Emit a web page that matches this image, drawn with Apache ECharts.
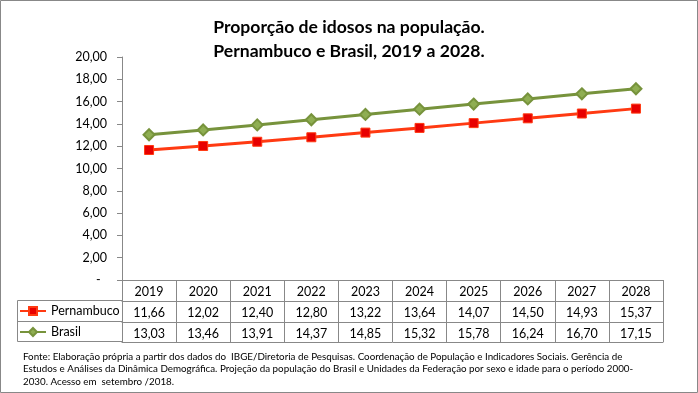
<!DOCTYPE html>
<html><head><meta charset="utf-8">
<script src="https://cdn.jsdelivr.net/npm/echarts@6/dist/echarts.min.js"></script>
<style>html,body{margin:0;padding:0;background:#fff}#c{width:698px;height:393px}</style>
</head><body><div id="c"></div>
<script>
const years = ['2019','2020','2021','2022','2023','2024','2025','2026','2027','2028'];
const pernambuco = [11.66,12.02,12.40,12.80,13.22,13.64,14.07,14.50,14.93,15.37];
const brasil = [13.03,13.46,13.91,14.37,14.85,15.32,15.78,16.24,16.70,17.15];
const seriesNames = ['Pernambuco','Brasil'];
const yMin = 0, yMax = 20, yStep = 2;
const titleText = 'Proporção de idosos na população.\nPernambuco e Brasil, 2019 a 2028.';
const sourceText = [
  'Fonte: Elaboração própria a partir dos dados do  IBGE/Diretoria de Pesquisas. Coordenação de População e Indicadores Sociais. Gerência de',
  'Estudos e Análises da Dinâmica Demográfica. Projeção da população do Brasil e Unidades da Federação por sexo e idade para o período 2000-',
  '2030. Acesso em  setembro /2018.'
];

const FONT = 'Lato';
const AX = '#888888';
const fmt = v => v.toFixed(2).replace('.', ',');

const chart = echarts.init(document.getElementById('c'), null, {renderer: 'canvas'});

function valueAxis(offset, vals) {
  return {
    type: 'category', data: years, position: 'bottom', offset: offset,
    gridIndex: 0,
    axisLine: {show: true, lineStyle: {color: AX, width: 1}},
    axisTick: {show: false},
    axisLabel: vals ? {
      show: true, interval: 0, margin: 5, color: '#000', fontFamily: FONT, fontSize: 12.5,
      formatter: (v, i) => fmt(vals[i])
    } : {show: false},
    splitLine: {show: false}
  };
}

chart.setOption({
  animation: false,
  textStyle: {fontFamily: FONT},
  title: {
    text: titleText, left: 'center', top: 10,
    textStyle: {fontFamily: FONT, fontWeight: 'bold', fontSize: 17.6, lineHeight: 24, color: '#000'}
  },
  grid: {left: 122, right: 35, top: 57, bottom: 113, containLabel: false},
  legend: {
    orient: 'vertical', left: 19, top: 304, padding: 0,
    itemWidth: 26, itemHeight: 10, itemGap: 7,
    textStyle: {fontFamily: FONT, fontSize: 12.5, color: '#000', lineHeight: 14},
    data: seriesNames
  },
  xAxis: [
    {
      type: 'category', data: years, position: 'bottom', boundaryGap: true,
      axisLine: {show: true, lineStyle: {color: AX, width: 1}},
      axisTick: {show: true, interval: 0, length: 62, lineStyle: {color: AX}},
      axisLabel: {interval: 0, margin: 5, color: '#000', fontFamily: FONT, fontSize: 12.5},
      splitLine: {show: false}
    },
    valueAxis(21, pernambuco),
    valueAxis(42, brasil),
    valueAxis(62, null)
  ],
  yAxis: {
    type: 'value', min: yMin, max: yMax, interval: yStep,
    axisLine: {show: true, lineStyle: {color: AX, width: 1}},
    axisTick: {show: true, length: 5, lineStyle: {color: AX}},
    axisLabel: {
      margin: 15, color: '#000', fontFamily: FONT, fontSize: 12.5,
      formatter: v => v === 0 ? '-  ' : fmt(v)
    },
    splitLine: {show: false}
  },
  series: [
    {
      name: seriesNames[0], type: 'line', data: pernambuco, xAxisIndex: 0,
      symbol: 'rect', symbolSize: 9,
      lineStyle: {color: '#FF3A12', width: 3},
      itemStyle: {color: '#E80000', borderColor: '#FF3A12', borderWidth: 1},
      emphasis: {disabled: true}
    },
    {
      name: seriesNames[1], type: 'line', data: brasil, xAxisIndex: 0,
      symbol: 'diamond', symbolSize: 11,
      lineStyle: {color: '#77933C', width: 3},
      itemStyle: {color: '#8FAE52', borderColor: '#77933C', borderWidth: 2},
      emphasis: {disabled: true}
    }
  ],
  graphic: [
    {type: 'rect', silent: true, shape: {x: 0.5, y: 0.5, width: 697, height: 392},
     style: {fill: 'none', stroke: AX, lineWidth: 1}},
    {type: 'rect', silent: true, shape: {x: 17.5, y: 300.5, width: 105, height: 41},
     style: {fill: 'none', stroke: AX, lineWidth: 1}},
    {type: 'line', silent: true, shape: {x1: 17.5, y1: 321.5, x2: 122.5, y2: 321.5},
     style: {stroke: AX, lineWidth: 1}},
    {type: 'text', silent: true, left: 23, top: 350,
     style: {text: sourceText.join('\n'), fontFamily: FONT, fontSize: 9.8, lineHeight: 12.8, fill: '#000'}}
  ]
});
</script></body></html>
